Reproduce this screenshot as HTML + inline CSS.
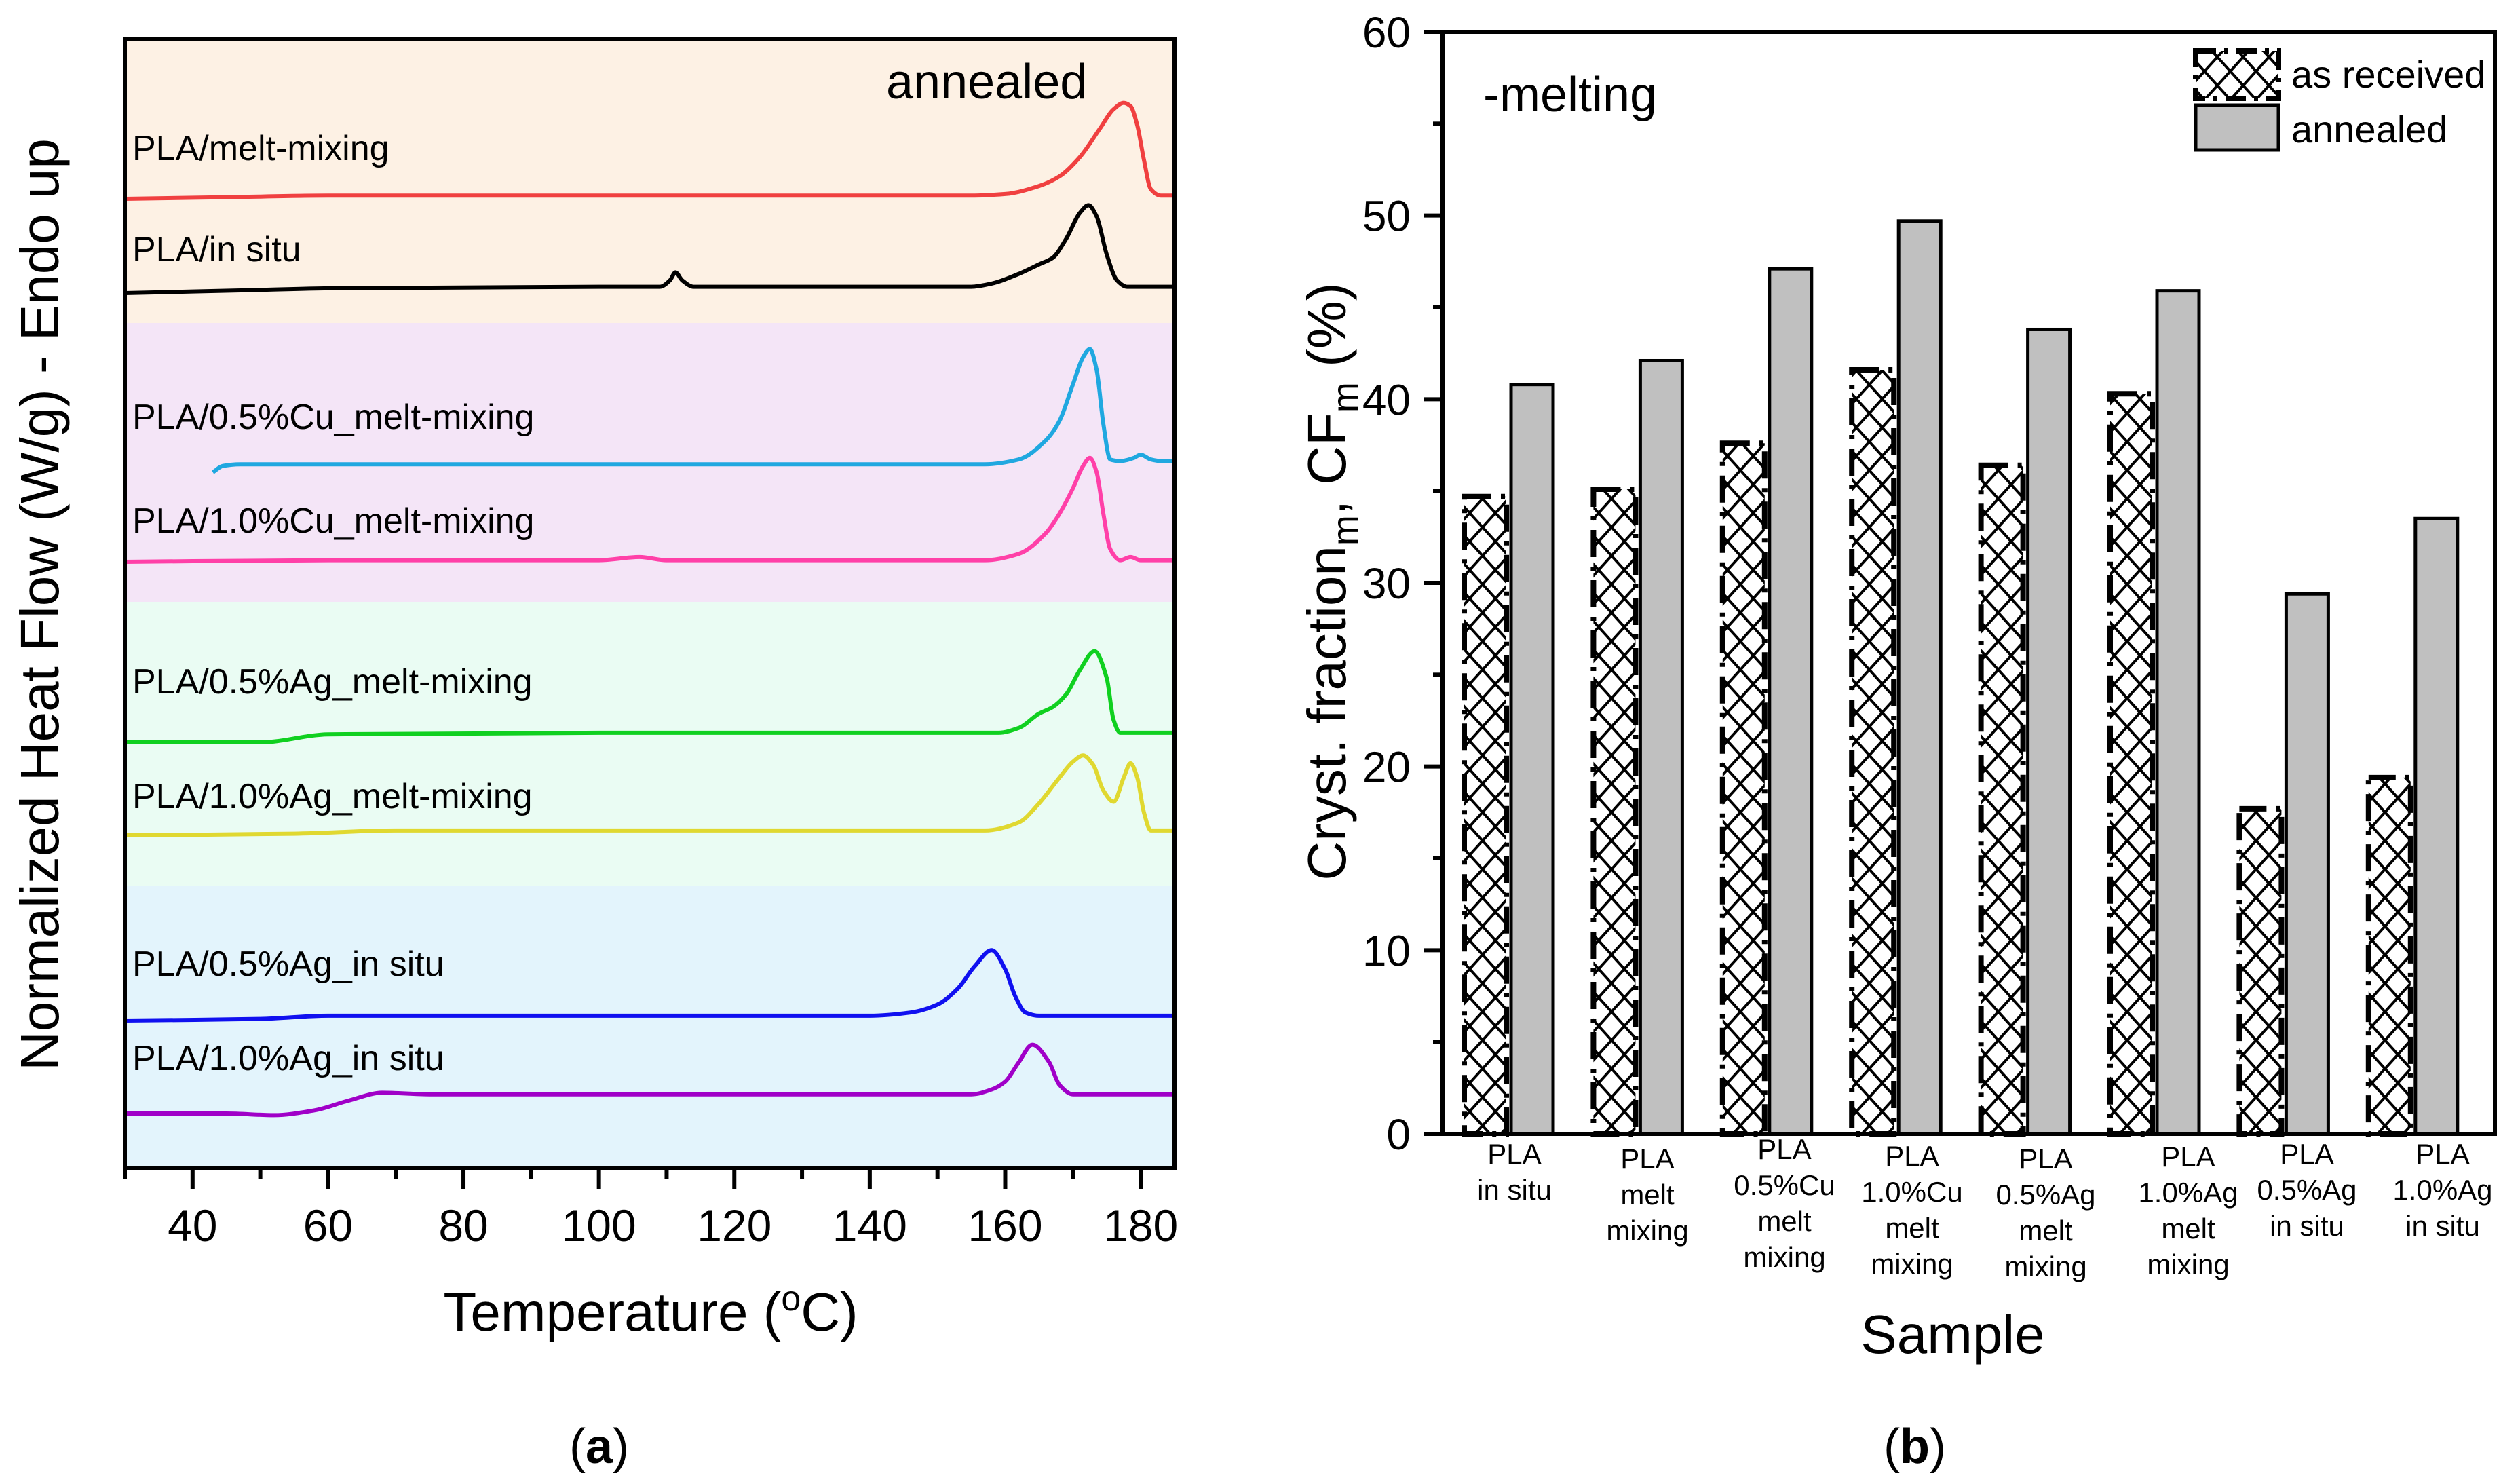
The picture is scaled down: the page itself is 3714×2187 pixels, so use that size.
<!DOCTYPE html>
<html><head><meta charset="utf-8"><style>
html,body{margin:0;padding:0;background:#fff}
svg{display:block}
text{font-family:"Liberation Sans",Arial,sans-serif}
.nar{font-family:"Liberation Sans Narrow","Liberation Sans",sans-serif}
</style></head><body>
<svg id="fig" width="3714" height="2187" viewBox="0 0 3714 2187" xmlns="http://www.w3.org/2000/svg">
<defs>
<pattern id="xh" patternUnits="userSpaceOnUse" width="38" height="42">
<path d="M0,0 L38,42 M38,0 L0,42" stroke="#000" stroke-width="4" fill="none"/>
</pattern>
</defs>
<g id="left"></g>
<g id="right"></g>
</svg>
<script>
// ---------- Panel (a) data ----------
const dscLabels = ["PLA/melt-mixing","PLA/in situ","PLA/0.5%Cu_melt-mixing","PLA/1.0%Cu_melt-mixing","PLA/0.5%Ag_melt-mixing","PLA/1.0%Ag_melt-mixing","PLA/0.5%Ag_in situ","PLA/1.0%Ag_in situ"];
const dscColors = ["#f04040","#000000","#20a8e0","#ff40a8","#10d020","#e0d830","#1010f0","#a000c8"];
const xTicks = [40,60,80,100,120,140,160,180];
const tRed = [30,45,60,100,155,160,165,168,171,174,176,177.5,178.5,179.5,180.5,181.5,183,185];
const vRed = [0,1,2,2,2,3,8,14,26,44,56,60,58,46,24,6,2,2];
const tBlack = [30,50,60,100,109,110.5,111.3,112.3,114,155,158,162,165,167,169,171,172.3,173.5,175,176.5,178,185];
const vBlack = [0,2,3,4,4,8,13,8,4,4,6,12,18,22,34,50,55,48,24,8,4,4];
const tCyan = [43,44.5,47,60,100,157,162,166,168,170,171.5,172.5,173.5,174.5,175.5,177,179,180,181.5,183,185];
const vCyan = [0,4,5,5,5,5,8,20,32,55,72,77,64,30,8,7,9,11,8,7,7];
const tPink = [30,60,100,106,110,157,162,166,168,170,171.5,172.5,173.5,174.5,175.5,177,178.5,180,185];
const vPink = [0,1,1,3,1,1,5,18,30,46,60,65,56,30,8,1,3,1,1];
const tGreen = [30,50,60,100,159,162,165,167,169,171,173.2,175,176,177,180,185];
const vGreen = [0,0,5,6,6,9,18,22,30,45,57,40,14,6,6,6];
const tYellow = [30,55,70,100,157,162,165,168,170,171.5,173,174.5,176,177.5,178.5,179.5,180.5,181.5,185];
const vYellow = [0,1,3,3,3,8,20,36,46,50,44,28,21,36,45,36,14,3,3];
const tBlue = [30,50,60,140,146,150,153,155.5,158,160,161.5,163,165,185];
const vBlue = [0,1,3,3,5,10,20,34,44,32,15,5,3,3];
const tPurple = [30,45,52,58,63,68,75,100,155,158,160,162,164,166.5,168,170,185];
const vPurple = [0,0,-1,2,8,13,12,12,12,15,20,32,43,32,18,12,12];
const dscT = [tRed,tBlack,tCyan,tPink,tGreen,tYellow,tBlue,tPurple];
const dscV = [vRed,vBlack,vCyan,vPink,vGreen,vYellow,vBlue,vPurple];

// ---------- Panel (b) data ----------
const catLines = [["PLA","in situ"],["PLA","melt","mixing"],["PLA","0.5%Cu","melt","mixing"],["PLA","1.0%Cu","melt","mixing"],["PLA","0.5%Ag","melt","mixing"],["PLA","1.0%Ag","melt","mixing"],["PLA","0.5%Ag","in situ"],["PLA","1.0%Ag","in situ"]];
const asReceived = [34.7,35.1,37.6,41.6,36.4,40.3,17.7,19.4];
const annealed = [40.8,42.1,47.1,49.7,43.8,45.9,29.4,33.5];
const yTicks = [0,10,20,30,40,50,60];

const NS="http://www.w3.org/2000/svg";
function mk(parent,tag,attrs,txt){const e=document.createElementNS(NS,tag);for(const k in attrs)e.setAttribute(k,attrs[k]);if(txt!==undefined)e.textContent=txt;parent.appendChild(e);return e;}

// ===== Panel (a) =====
const L=document.getElementById('left');
const LX0=184,LX1=1731,LY0=57,LY1=1721,TMIN=30,TMAX=185;
const xS=t=>LX0+(t-TMIN)*(LX1-LX0)/(TMAX-TMIN);
const bands=[[57,476,"#fdf1e4"],[476,887,"#f4e5f7"],[887,1305,"#eafcf3"],[1305,1721,"#e3f4fc"]];
bands.forEach((b,i)=>{
  const r=mk(L,'rect',{x:LX0,y:b[0],width:LX1-LX0,height:b[1]-b[0],fill:b[2]});
  
  
});
const bases=[293,432,696,828,1094,1231,1504,1641];
const vk=2.357;
function monoPath(pts){
  const n=pts.length,dx=[],sl=[],m=[];
  for(let i=0;i<n-1;i++){dx[i]=pts[i+1][0]-pts[i][0];sl[i]=(pts[i+1][1]-pts[i][1])/dx[i];}
  m[0]=sl[0];m[n-1]=sl[n-2];
  for(let i=1;i<n-1;i++){
    if(sl[i-1]*sl[i]<=0)m[i]=0;
    else{const w1=2*dx[i]+dx[i-1],w2=dx[i]+2*dx[i-1];m[i]=(w1+w2)/(w1/sl[i-1]+w2/sl[i]);}
  }
  let d='M'+pts[0][0].toFixed(1)+','+pts[0][1].toFixed(1);
  for(let i=0;i<n-1;i++){
    const h=dx[i]/3;
    d+=' C'+(pts[i][0]+h).toFixed(1)+','+(pts[i][1]+m[i]*h).toFixed(1)+' '+(pts[i+1][0]-h).toFixed(1)+','+(pts[i+1][1]-m[i+1]*h).toFixed(1)+' '+pts[i+1][0].toFixed(1)+','+pts[i+1][1].toFixed(1);
  }
  return d;
}
dscT.forEach((ts,i)=>{
  const pts=ts.map((t,j)=>[xS(t),bases[i]-dscV[i][j]*vk]);
  const p=mk(L,'path',{d:monoPath(pts),fill:'none',stroke:dscColors[i],'stroke-width':6,'stroke-linejoin':'round'});
  
  
});
const labelY=[236,385,632,785,1022,1191,1438,1577];
dscLabels.forEach((s,i)=>{
  const t=mk(L,'text',{x:195,y:labelY[i],'font-size':52,fill:'#000'},s);
  
  
});
const ann=mk(L,'text',{x:1306,y:145,'font-size':72},'annealed');


const fr=mk(L,'rect',{x:LX0,y:LY0,width:LX1-LX0,height:LY1-LY0,fill:'none',stroke:'#000','stroke-width':6});


for(let t=30;t<=180;t+=10){
  const major=(t%20===0);
  const tk=mk(L,'line',{x1:xS(t),x2:xS(t),y1:LY1,y2:LY1+(major?31:17),stroke:'#000','stroke-width':6});
  
  
}
xTicks.forEach(t=>{
  const tl=mk(L,'text',{x:xS(t),y:1829,'font-size':66,'text-anchor':'middle'},String(t));
  
  
});
const xt=mk(L,'text',{x:959,y:1961,'font-size':80,'text-anchor':'middle'});


xt.innerHTML='Temperature (<tspan dy="-30" font-size="52">o</tspan><tspan dy="30">C)</tspan>';
const yt=mk(L,'text',{x:0,y:0,'font-size':80,'text-anchor':'middle',transform:'translate(86,891) rotate(-90)'},'Normalized Heat Flow (W/g) - Endo up');


const ca=mk(L,'text',{x:883,y:2156,'font-size':72,'text-anchor':'middle','font-family':'Liberation Serif, serif'});


ca.innerHTML='(<tspan font-weight="bold">a</tspan>)';

// ===== Panel (b) =====
const R=document.getElementById('right');
const RX0=2126,RX1=3677,RY0=47,RY1=1671,VMAX=60;
const yS=v=>RY1-v*(RY1-RY0)/VMAX;
const G0=2158,GSTEP=190.4,BW=62,GAP=7;
asReceived.forEach((v,i)=>{
  const x=G0+i*GSTEP;
  const b=mk(R,'rect',{x:x,y:yS(v),width:BW,height:RY1-yS(v),fill:'url(#xh)',stroke:'#000','stroke-width':8,'stroke-dasharray':'40,14,6,14'});
  
  
});
annealed.forEach((v,i)=>{
  const x=G0+i*GSTEP+BW+GAP;
  const b=mk(R,'rect',{x:x,y:yS(v),width:BW,height:RY1-yS(v),fill:'#c0c0c0',stroke:'#000','stroke-width':5});
  
  
});
const fr2=mk(R,'rect',{x:RX0,y:RY0,width:RX1-RX0,height:RY1-RY0,fill:'none',stroke:'#000','stroke-width':6});


for(let v=0;v<=60;v+=5){
  const major=(v%10===0);
  const tk=mk(R,'line',{x1:RX0,x2:RX0-(major?27:14),y1:yS(v),y2:yS(v),stroke:'#000','stroke-width':6});
  
  
}
yTicks.forEach(v=>{
  const tl=mk(R,'text',{x:2079,y:yS(v)+23,'font-size':64,'text-anchor':'end'},String(v));
  
  
});
const catX=[2232,2428,2630,2818,3015,3225,3400,3600];
const catY0=[1715,1722,1708,1718,1722,1719,1715,1715];
catLines.forEach((lines,i)=>{
  const t=mk(R,'text',{x:catX[i],y:catY0[i],'font-size':42,'text-anchor':'middle',class:'nar'});
  
  
  lines.forEach((s,j)=>{mk(t,'tspan',{x:catX[i],dy:j===0?0:53},s);});
});
const st=mk(R,'text',{x:2878,y:1994,'font-size':80,'text-anchor':'middle'},'Sample');


const yt2=mk(R,'text',{x:0,y:0,'font-size':80,'text-anchor':'middle',transform:'translate(1983,857) rotate(-90)'});


yt2.innerHTML='Cryst. fraction<tspan dy="18" font-size="54">m</tspan><tspan dy="-18">, CF</tspan><tspan dy="18" font-size="54">m</tspan><tspan dy="-18"> (%)</tspan>';
const ml=mk(R,'text',{x:2186,y:164,'font-size':72},'-melting');


const lg=mk(R,'g',{});


const l1=mk(lg,'rect',{x:3236,y:75,width:122,height:70,fill:'url(#xh)',stroke:'#000','stroke-width':8,'stroke-dasharray':'30,12,6,12'});


const l2=mk(lg,'rect',{x:3236,y:155,width:122,height:66,fill:'#c0c0c0',stroke:'#000','stroke-width':5});


const lt1=mk(lg,'text',{x:3377,y:129,'font-size':56},'as received');


const lt2=mk(lg,'text',{x:3377,y:210,'font-size':56},'annealed');


const cb=mk(R,'text',{x:2822,y:2156,'font-size':72,'text-anchor':'middle','font-family':'Liberation Serif, serif'});


cb.innerHTML='(<tspan font-weight="bold">b</tspan>)';
</script>
</body></html>
